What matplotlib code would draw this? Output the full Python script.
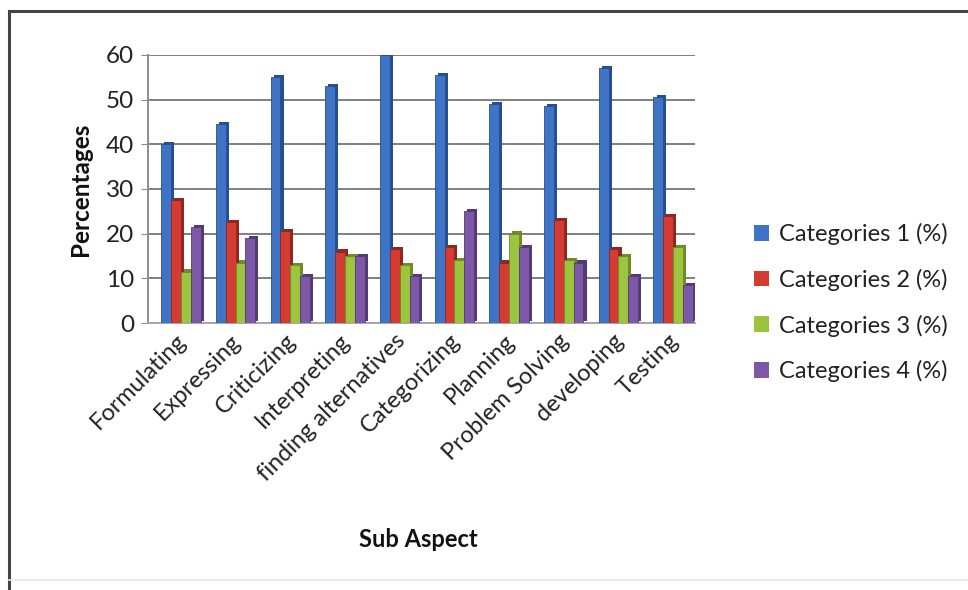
import matplotlib
matplotlib.use("Agg")
import matplotlib.pyplot as plt
import matplotlib.patheffects as pe
from matplotlib.lines import Line2D
from matplotlib.patches import Patch
import numpy as np

plt.rcParams['font.family'] = ['Lato', 'DejaVu Sans']

sub_aspects = ["Formulating", "Expressing", "Criticizing", "Interpreting",
               "finding alternatives", "Categorizing", "Planning",
               "Problem Solving", "developing", "Testing"]

cat1 = [40, 44.5, 55, 53, 60, 55.5, 49, 48.5, 57, 50.5]
cat2 = [27.5, 22.5, 20.5, 16, 16.5, 17, 13.5, 23, 16.5, 24]
cat3 = [11.5, 13.5, 13, 15, 13, 14, 20, 14, 15, 17]
cat4 = [21.5, 19, 10.5, 15, 10.5, 25, 17, 13.5, 10.5, 8.5]

series_names = ["Categories 1 (%)", "Categories 2 (%)",
                "Categories 3 (%)", "Categories 4 (%)"]
series_values = [cat1, cat2, cat3, cat4]
face_colors = ["#3f73c6", "#d23c33", "#9dc43f", "#7c58a6"]
side_colors = ["#254f91", "#8f2620", "#6c8c25", "#543a75"]

yticks = [0, 10, 20, 30, 40, 50, 60]

fig = plt.figure(figsize=(9.68, 5.90), dpi=100)
ax = fig.add_axes([0.153, 0.4525, 0.565, 0.4545])

x = np.arange(len(sub_aspects))
bar_w = 0.18
offsets = (np.arange(4) - 1.5) * bar_w + 0.1

for vals, name, fc, sc, off in zip(series_values, series_names,
                                   face_colors, side_colors, offsets):
    bars = ax.bar(x + off, vals, width=bar_w, color=fc, label=name,
                  edgecolor=sc, linewidth=0.6, zorder=3)
    for b in bars:
        b.set_path_effects([
            pe.SimplePatchShadow(offset=(2.2, 1.6), shadow_rgbFace=sc, alpha=1.0),
            pe.Normal(),
        ])

ax.set_xlim(-0.5, len(sub_aspects) - 0.5)
ax.set_ylim(0, 60)
ax.set_yticks(yticks)
ax.yaxis.grid(True, color="#7f7f7f", linewidth=1.4, zorder=0)
ax.set_axisbelow(True)

for s in ["top", "right"]:
    ax.spines[s].set_visible(False)
ax.spines["left"].set_color("#8c8c8c")
ax.spines["left"].set_linewidth(1.4)
ax.spines["bottom"].set_color("#a6a6a6")
ax.spines["bottom"].set_linewidth(1.4)

ax.tick_params(axis="y", labelsize=17.5, length=5, color="#8c8c8c",
               labelcolor="#222222", pad=5)
ax.tick_params(axis="x", length=0, pad=5)
ax.set_xticks(x)
ax.set_xticklabels(sub_aspects, rotation=45, ha="right",
                   rotation_mode="anchor", fontsize=17, color="#222222")

ax.set_ylabel("Percentages", fontsize=17.5, fontweight="bold", labelpad=10,
              color="#111111")
fig.text(0.432, 0.085, "Sub Aspect", fontsize=17, fontweight="bold",
         ha="center", va="center", color="#111111")

handles = [Patch(facecolor=c, edgecolor="none") for c in face_colors]
fig.legend(handles, series_names, loc="center left",
           bbox_to_anchor=(0.779, 0.487), frameon=False, fontsize=17,
           handlelength=0.65, handleheight=0.65, handletextpad=0.4,
           labelspacing=1.0, labelcolor="#222222",
           borderaxespad=0.0, borderpad=0.0)

# chart frame
fig.add_artist(Line2D([0.009, 1.0], [0.981, 0.981], transform=fig.transFigure,
                      color="#444444", linewidth=2.2))
fig.add_artist(Line2D([0.009, 0.009], [0.0, 0.981], transform=fig.transFigure,
                      color="#444444", linewidth=2.2))
fig.add_artist(Line2D([0.009, 1.0], [0.017, 0.017], transform=fig.transFigure,
                      color="#e6e6e6", linewidth=1.2))

fig.savefig("out.png", dpi=100, facecolor="white")
